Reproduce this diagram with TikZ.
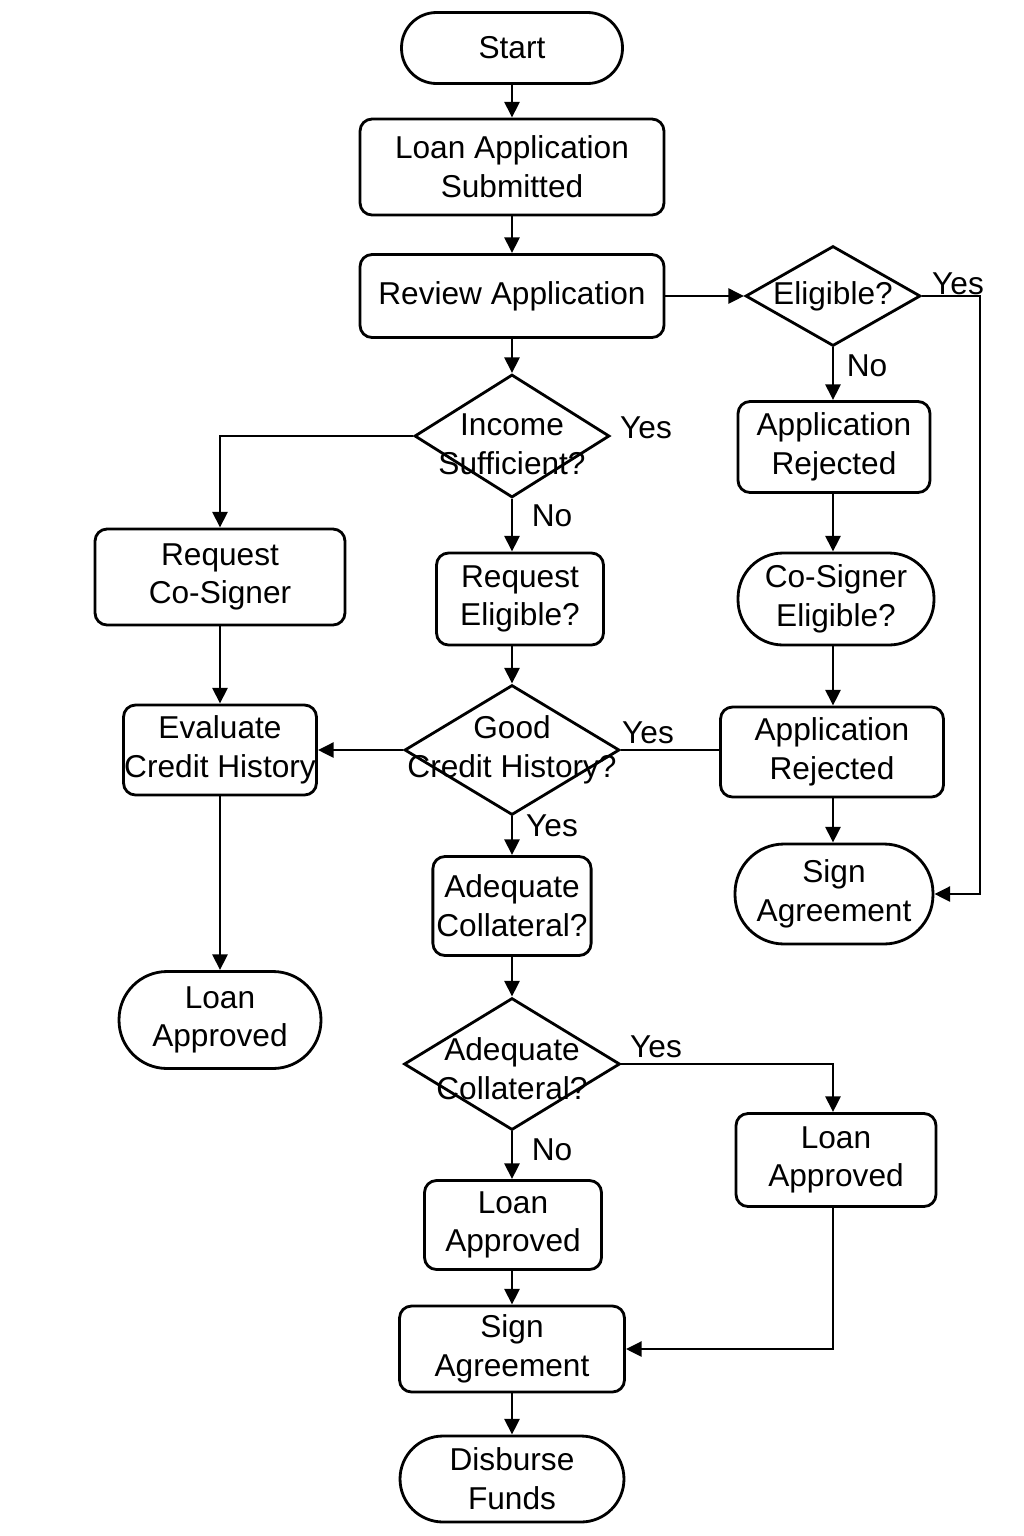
\documentclass[tikz,border=0pt]{standalone}
\usepackage{fontspec}
\setmainfont{Liberation Sans}
\usetikzlibrary{arrows.meta,shapes.geometric}
\begin{document}
\begin{tikzpicture}[x=0.02cm,y=-0.02cm,
    font=\fontsize{18}{22}\selectfont,
    box/.style={draw, line width=1.6pt, rounded corners=0.24cm, align=center, inner sep=2pt},
    pill/.style={draw, line width=1.6pt, rounded corners=0.88cm, align=center, inner sep=2pt},
    dia/.style={draw, diamond, line width=1.6pt, inner sep=0pt},
    arr/.style={line width=1.6pt, -{Triangle[length=9pt,width=8.5pt]}},
    ln/.style={line width=1.6pt}]
    \useasboundingbox (0,0) rectangle (1024,1536);
    % middle column
    \node[pill, minimum width=4.42cm, minimum height=1.42cm, rounded corners=0.7cm] (start) at (512,48) {Start};
    \node[box, minimum width=6.08cm, minimum height=1.92cm] (submitted) at (512,167) {Loan Application\\Submitted};
    \node[box, minimum width=6.08cm, minimum height=1.66cm] (review) at (512,296) {Review Application};
    \node[dia, minimum width=3.9cm, minimum height=2.46cm, label={[align=center,yshift=-0.16cm]center:Income\\Sufficient?}] (income) at (512,436) {};
    \node[box, minimum width=3.34cm, minimum height=1.84cm] (reqelig) at (520,599) {Request\\Eligible?};
    \node[dia, minimum width=4.3cm, minimum height=2.6cm, label={[align=center]center:Good\\Credit History?}] (credit) at (512,750) {};
    \node[box, minimum width=3.02cm, minimum height=1.98cm] (collat) at (512,906) {Adequate\\Collateral?};
    \node[dia, minimum width=4.32cm, minimum height=2.64cm, label={[align=center,yshift=-0.1cm]center:Adequate\\Collateral?}] (collatq) at (512,1064) {};
    \node[box, minimum width=3.54cm, minimum height=1.78cm] (loanmid) at (513,1225) {Loan\\Approved};
    \node[box, minimum width=4.5cm, minimum height=1.72cm] (signmid) at (512,1349) {Sign\\Agreement};
    \node[pill, minimum width=4.48cm, minimum height=1.72cm, rounded corners=0.86cm] (disburse) at (512,1479) {Disburse\\Funds};
    % left column
    \node[box, minimum width=5cm, minimum height=1.92cm] (reqco) at (220,577) {Request\\Co-Signer};
    \node[box, minimum width=3.86cm, minimum height=1.8cm, inner sep=0pt] (evalcredit) at (220,750) {Evaluate\\Credit History};
    \node[pill, minimum width=4.04cm, minimum height=1.94cm, rounded corners=0.96cm] (loanleft) at (220,1020) {Loan\\Approved};
    % right column
    \node[dia, minimum width=3.5cm, minimum height=2cm, label={center:Eligible?}] (eligible) at (833,296) {};
    \node[box, minimum width=3.84cm, minimum height=1.82cm] (rejected) at (834,447) {Application\\Rejected};
    \node[pill, minimum width=3.92cm, minimum height=1.84cm, rounded corners=0.9cm] (cosigner) at (836,599) {Co-Signer\\Eligible?};
    \node[box, minimum width=4.46cm, minimum height=1.8cm] (rejectedb) at (832,752) {Application\\Rejected};
    \node[pill, minimum width=3.96cm, minimum height=2cm, rounded corners=0.98cm] (signright) at (834,894) {Sign\\Agreement};
    \node[box, minimum width=4cm, minimum height=1.86cm] (loanright) at (836,1160) {Loan\\Approved};
    \coordinate (yesturn) at (980,296);
    % branch labels
    \node (yesa) at (958,284) {Yes};
    \node (noa) at (867,366) {No};
    \node (yesb) at (646,428) {Yes};
    \node (nob) at (552,516) {No};
    \node (yesc) at (648,733) {Yes};
    \node (yesd) at (552,826) {Yes};
    \node (yese) at (656,1047) {Yes};
    \node (noc) at (552,1150) {No};
    % connectors
    \draw[arr] (start) -- (submitted);
    \draw[arr] (submitted) -- (review);
    \draw[arr] (review) -- (income);
    \draw[arr] (review) -- (eligible);
    \draw[arr] (eligible.east) -- (yesturn) |- (signright.east);
    \draw[arr] (eligible) -- (eligible |- rejected.north);
    \draw[arr] (rejected.south -| eligible) -- (cosigner.north -| eligible);
    \draw[arr] (cosigner.south -| eligible) -- (rejectedb.north -| eligible);
    \draw[arr] (rejectedb.south -| eligible) -- (signright.north -| eligible);
    \draw[arr] (income.west) -| (reqco.north);
    \draw[arr] (income) -- (income |- reqelig.north);
    \draw[arr] (reqelig.south -| income) -- (credit);
    \draw[arr] (credit) -- (evalcredit);
    \draw[ln] (credit.east) -- (credit.east -| rejectedb.west);
    \draw[arr] (reqco) -- (evalcredit);
    \draw[arr] (evalcredit) -- (loanleft);
    \draw[arr] (credit) -- (collat);
    \draw[arr] (collat) -- (collatq);
    \draw[arr] (collatq.east) -| (loanright.north -| eligible);
    \draw[arr] (collatq) -- (collatq |- loanmid.north);
    \draw[arr] (loanmid.south -| collatq) -- (signmid);
    \draw[arr] (loanright.south -| eligible) |- (signmid.east);
    \draw[arr] (signmid) -- (disburse);
\end{tikzpicture}
\end{document}
